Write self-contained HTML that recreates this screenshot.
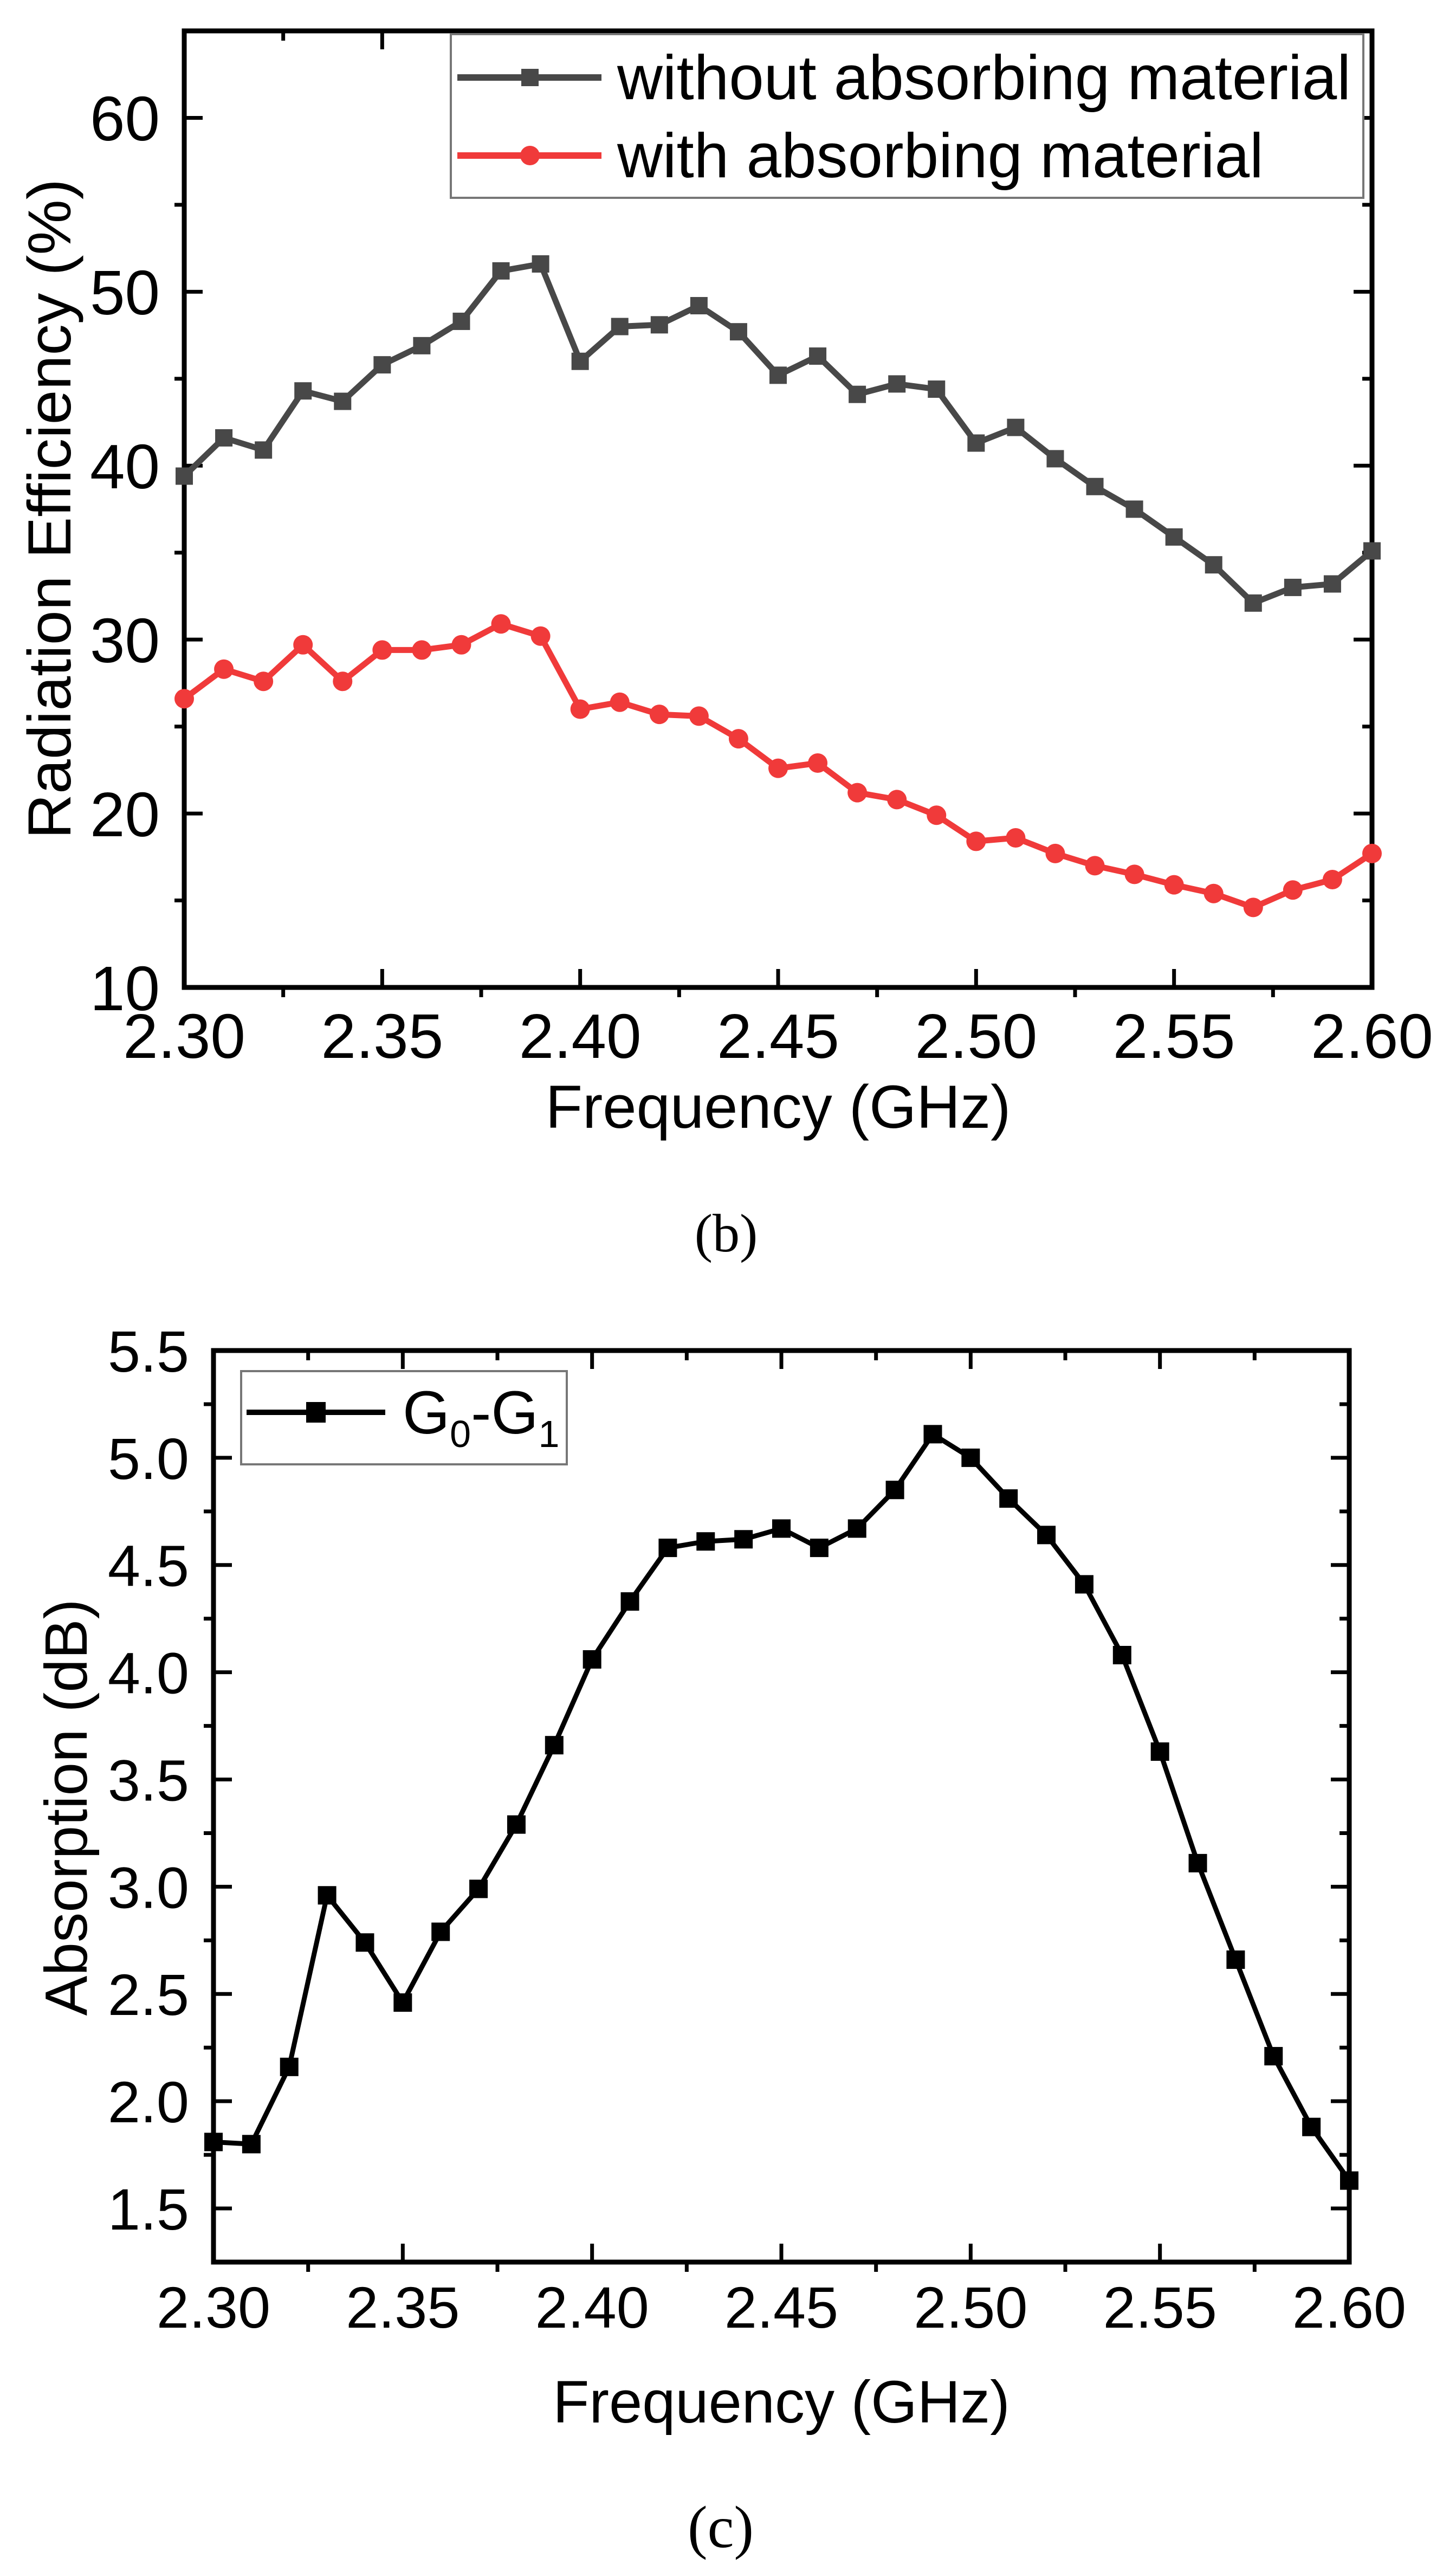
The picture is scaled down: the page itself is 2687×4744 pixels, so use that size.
<!DOCTYPE html>
<html><head><meta charset="utf-8"><style>
html,body{margin:0;padding:0;background:#fff}
svg{display:block}
text{font-family:"Liberation Sans",Arial,sans-serif;fill:#000}
</style></head><body>
<svg id="fig" width="2687" height="4744" viewBox="0 0 2687 4744" xmlns="http://www.w3.org/2000/svg">
<g id="c1"></g>
<g id="c2"></g>
<text x="1340" y="2309" font-size="100" text-anchor="middle" style="font-family:'Liberation Serif',serif">(b)</text>
<text x="1330" y="4700" font-size="110" text-anchor="middle" style="font-family:'Liberation Serif',serif">(c)</text>
</svg>
<script>
const freqs = [2.30,2.31,2.32,2.33,2.34,2.35,2.36,2.37,2.38,2.39,2.40,2.41,2.42,2.43,2.44,2.45,2.46,2.47,2.48,2.49,2.50,2.51,2.52,2.53,2.54,2.55,2.56,2.57,2.58,2.59,2.60];
const withoutAbs = [39.4,41.6,40.9,44.3,43.7,45.8,46.9,48.3,51.2,51.6,46.0,48.0,48.1,49.2,47.7,45.2,46.3,44.1,44.7,44.4,41.3,42.2,40.4,38.8,37.5,35.9,34.3,32.1,33.0,33.2,35.1];
const withAbs = [26.6,28.3,27.6,29.7,27.6,29.4,29.4,29.7,30.9,30.2,26.0,26.4,25.7,25.6,24.3,22.6,22.9,21.2,20.8,19.9,18.4,18.6,17.7,17.0,16.5,15.9,15.4,14.6,15.6,16.2,17.7];
const absorption = [1.81,1.80,2.16,2.96,2.74,2.46,2.79,2.99,3.29,3.66,4.06,4.33,4.58,4.61,4.62,4.67,4.58,4.67,4.85,5.11,5.00,4.81,4.64,4.41,4.08,3.63,3.11,2.66,2.21,1.88,1.63];
const xTicks = [2.30,2.35,2.40,2.45,2.50,2.55,2.60];
const xTickLabels = ["2.30","2.35","2.40","2.45","2.50","2.55","2.60"];
const y1Ticks = [10,20,30,40,50,60];
const y1TickLabels = ["10","20","30","40","50","60"];
const y2Ticks = [1.5,2.0,2.5,3.0,3.5,4.0,4.5,5.0,5.5];
const y2TickLabels = ["1.5","2.0","2.5","3.0","3.5","4.0","4.5","5.0","5.5"];

const NS="http://www.w3.org/2000/svg";
function mk(parent,tag,attrs,txt){const e=document.createElementNS(NS,tag);for(const k in attrs)e.setAttribute(k,attrs[k]);if(txt!==undefined)e.textContent=txt;parent.appendChild(e);return e;}

function axes(g,o){
  const sx=v=>o.L+(v-o.x0)/(o.x1-o.x0)*(o.R-o.L);
  const sy=v=>o.B-(v-o.y0)/(o.y1-o.y0)*(o.B-o.T);
  const frame=mk(g,'rect',{x:o.L,y:o.T,width:o.R-o.L,height:o.B-o.T,fill:'none',stroke:'#000','stroke-width':9});
  
  
  o.xT.forEach((v,i)=>{
    const x=sx(v);
    const t=mk(g,'path',{d:`M${x},${o.B}v-34M${x},${o.T}v34`,stroke:'#000','stroke-width':7});
    
    
    const l=mk(g,'text',{x:x,y:o.xLabY,'font-size':o.fs,'text-anchor':'middle'},o.xL[i]);
    
    
    if(i<o.xT.length-1){
      const xm=sx(v+0.025);
      const m=mk(g,'path',{d:`M${xm},${o.B}v18M${xm},${o.T}v18`,stroke:'#000','stroke-width':7});
      
      
    }
  });
  o.yT.forEach((v,i)=>{
    const y=sy(v);
    const t=mk(g,'path',{d:`M${o.L},${y}h34M${o.R},${y}h-34`,stroke:'#000','stroke-width':7});
    
    
    const l=mk(g,'text',{x:o.L-45,y:y+o.fs*0.36,'font-size':o.fs,'text-anchor':'end'},o.yL[i]);
    
    
    const ym=sy(v+o.yStep/2);
    if(ym>o.T+5){
      const m=mk(g,'path',{d:`M${o.L},${ym}h-18M${o.R},${ym}h-18`,stroke:'#000','stroke-width':7});
      
      
    }
  });
  const xt=mk(g,'text',{x:(o.L+o.R)/2,y:o.xTitleY,'font-size':o.tfs,'text-anchor':'middle'},'Frequency (GHz)');
  
  
  const yt=mk(g,'text',{x:0,y:0,'font-size':o.tfs,'text-anchor':'middle',textLength:o.ytLen,lengthAdjust:'spacingAndGlyphs',transform:`translate(${o.ytX},${o.ytY}) rotate(-90)`},o.yTitle);
  
  
  return {sx,sy};
}

function series(g,sx,sy,xs,ys,color,marker,w,ms,name){
  const d=xs.map((x,i)=>(i?'L':'M')+sx(x).toFixed(1)+','+sy(ys[i]).toFixed(1)).join('');
  const p=mk(g,'path',{d:d,fill:'none',stroke:color,'stroke-width':w,'stroke-linejoin':'round'});
  
  
  xs.forEach((x,i)=>{
    let m;
    if(marker==='square') m=mk(g,'rect',{x:sx(x)-ms/2,y:sy(ys[i])-ms/2,width:ms,height:ms,fill:color});
    else m=mk(g,'circle',{cx:sx(x),cy:sy(ys[i]),r:ms/2,fill:color});
    
    
  });
}

// Chart 1
const g1=document.getElementById('c1');
const a1=axes(g1,{L:340,R:2532,T:57,B:1822,x0:2.30,x1:2.60,y0:10,y1:65,xT:xTicks,xL:xTickLabels,yT:y1Ticks,yL:y1TickLabels,yStep:10,fs:116,tfs:112,xLabY:1952,xTitleY:2081,yTitle:'Radiation Efficiency (%)',ytX:130,ytY:939,ytLen:1218});
series(g1,a1.sx,a1.sy,freqs,withoutAbs,'#484848','square',11,32,'without-absorbing');
series(g1,a1.sx,a1.sy,freqs,withAbs,'#f03a3a','circle',11,36,'with-absorbing');
const lg1=mk(g1,'g',{});


mk(lg1,'rect',{x:832,y:63,width:1684,height:302,fill:'#fff',stroke:'#777','stroke-width':4});
mk(lg1,'path',{d:'M844,143H1110',stroke:'#484848','stroke-width':12});
mk(lg1,'rect',{x:962,y:127,width:32,height:32,fill:'#484848'});
const lt1=mk(lg1,'text',{x:1139,y:183,'font-size':116},'without absorbing material');


mk(lg1,'path',{d:'M844,287H1110',stroke:'#f03a3a','stroke-width':12});
mk(lg1,'circle',{cx:978,cy:287,r:18,fill:'#f03a3a'});
const lt2=mk(lg1,'text',{x:1139,y:327,'font-size':116},'with absorbing material');



// Chart 2
const g2=document.getElementById('c2');
const a2=axes(g2,{L:394,R:2490,T:2492,B:4174,x0:2.30,x1:2.60,y0:1.25,y1:5.5,xT:xTicks,xL:xTickLabels,yT:y2Ticks,yL:y2TickLabels,yStep:0.5,fs:108,tfs:110,xLabY:4295,xTitleY:4470,yTitle:'Absorption (dB)',ytX:160,ytY:3335,ytLen:769});
series(g2,a2.sx,a2.sy,freqs,absorption,'#000','square',9,34,'g0-g1');
const lg2=mk(g2,'g',{});


mk(lg2,'rect',{x:445,y:2530,width:601,height:172,fill:'#fff',stroke:'#777','stroke-width':4});
mk(lg2,'path',{d:'M455,2606H711',stroke:'#000','stroke-width':10});
mk(lg2,'rect',{x:565,y:2587,width:36,height:38,fill:'#000'});
const lt3=mk(lg2,'text',{x:743,y:2645,'font-size':112});


mk(lt3,'tspan',{},'G');
mk(lt3,'tspan',{'font-size':70,dy:25},'0');
mk(lt3,'tspan',{dy:-25},'-G');
mk(lt3,'tspan',{'font-size':70,dy:25},'1');
</script>
</body></html>
